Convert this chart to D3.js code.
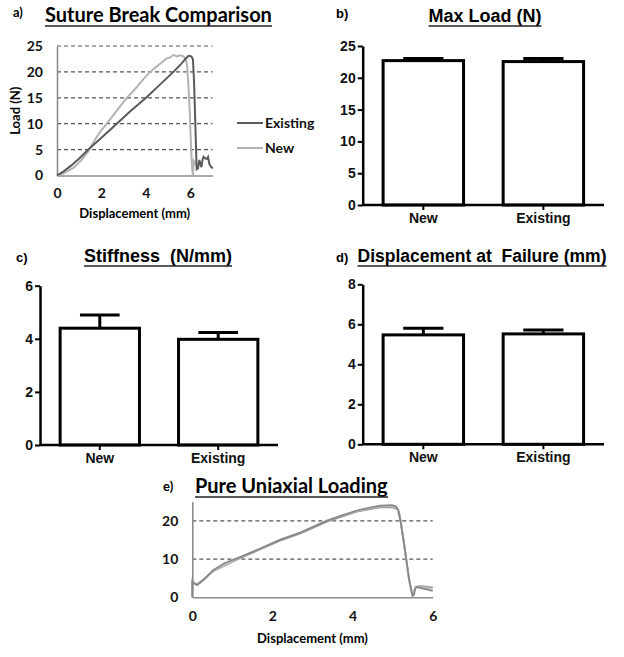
<!DOCTYPE html>
<html><head><meta charset="utf-8">
<script src="https://cdn.jsdelivr.net/npm/d3@7"></script>
<style>html,body{margin:0;padding:0;background:#fff;} text{white-space:pre;}</style>
</head><body>
<script>
// ---------- DATA ----------
const groups = ["New", "Existing"];
const maxLoadMean = [22.7, 22.55];
const maxLoadErr = [0.35, 0.5];
const stiffMean = [4.40, 3.98];
const stiffErr = [0.50, 0.26];
const dispMean = [5.47, 5.52];
const dispErr = [0.33, 0.20];

const ticksA_y = [0, 5, 10, 15, 20, 25];
const ticksA_x = [0, 2, 4, 6];
const ticksB_y = [0, 5, 10, 15, 20, 25];
const ticksC_y = [0, 2, 4, 6];
const ticksD_y = [0, 2, 4, 6, 8];
const ticksE_y = [0, 10, 20];
const ticksE_x = [0, 2, 4, 6];
const legendA = ["Existing", "New"];

// panel a curves [displacement mm, load N]
const existingCurve = [[0,0],[0.3,0.8],[0.66,2.0],[1.0,3.3],[1.41,5],[2.0,7.3],[2.69,10],[3.3,12.4],[4.01,15],[4.6,17.4],[5.24,20],[5.6,21.6],[5.8,22.6],[5.92,23.1],[6.05,23.0],[6.12,22.4],[6.17,18],[6.22,11],[6.26,5],[6.29,1.2],[6.35,1.4],[6.41,3.0],[6.46,2.2],[6.5,1.6],[6.56,3.2],[6.6,3.6],[6.67,3.3],[6.74,3.2],[6.8,3.6],[6.86,2.2],[6.95,1.6],[7.02,1.4]];
const newCurve = [[0,0],[0.3,0.4],[0.75,1.5],[1.1,3.0],[1.4,4.6],[1.64,6.4],[1.9,8.2],[2.24,10],[2.6,12],[2.9,13.7],[3.14,15],[3.5,16.6],[3.85,18.4],[4.19,20],[4.56,21.3],[4.94,22.6],[5.1,22.8],[5.24,23.3],[5.39,23.0],[5.55,23.2],[5.69,23.0],[5.8,22.4],[5.86,21],[5.92,17],[5.98,12],[6.03,6],[6.08,1.5],[6.12,0],[6.16,2.8],[6.21,2.4],[6.28,1.8]];

// panel e curves
const uniaxial1 = [[0,0],[0,4.3],[0.05,3.6],[0.12,3.2],[0.25,4.3],[0.52,7.1],[0.8,8.9],[1.19,10.5],[1.6,12.3],[2.19,15],[2.7,16.9],[3.36,20],[3.7,21.3],[4.11,22.7],[4.4,23.4],[4.69,24.0],[4.98,24.1],[5.08,23.8],[5.15,22.7],[5.21,19],[5.27,15],[5.34,10],[5.4,5.4],[5.46,2],[5.5,0.4],[5.53,0.6],[5.57,2.4],[5.62,2.7],[5.7,2.4],[5.85,2.1],[6.0,1.7]];
const uniaxial2 = [[0,0],[0,3.8],[0.12,3.5],[0.3,4.8],[0.52,6.8],[1.19,10.2],[2.19,14.8],[2.7,16.7],[3.36,19.8],[4.11,22.4],[4.69,23.5],[4.98,23.6],[5.12,23],[5.2,20],[5.3,13],[5.42,4],[5.5,0.8],[5.58,2.8],[5.7,2.9],[6.0,2.6]];
const uniaxial3 = [[0,0],[0,4.0],[0.12,3.4],[0.3,4.6],[0.52,7.0],[1.19,10.4],[2.19,15.1],[2.7,17.0],[3.36,20.1],[4.11,22.6],[4.69,23.8],[4.98,23.9],[5.1,23.4],[5.18,21.5],[5.28,14],[5.4,5],[5.49,0.6],[5.57,2.6],[5.7,2.6],[6.0,2.2]];

// ---------- DRAW ----------
const svg = d3.select("body").append("svg").attr("width", 624).attr("height", 657)
  .style("background", "#fff");

const xlFont = "Lato, 'Open Sans', sans-serif";
const gpFont = "'Liberation Sans', Arial, sans-serif";
const intFmt = d3.format("d");

function underlinedTitle(x, y, text, font, size, anchor) {
  const t = svg.append("text").attr("x", x).attr("y", y).attr("text-anchor", anchor || "middle")
    .attr("xml:space", "preserve").style("white-space", "pre")
    .attr("font-family", font).attr("font-size", size).attr("font-weight", "bold").attr("fill", "#000").text(text);
  const bb = t.node().getBBox();
  svg.append("line").attr("x1", bb.x).attr("x2", bb.x + bb.width).attr("y1", y + 4).attr("y2", y + 4)
    .attr("stroke", "#222").attr("stroke-width", 1.5);
}
function letter(x, y, text, font) {
  svg.append("text").attr("x", x).attr("y", y).attr("font-family", font || gpFont).attr("font-size", 13)
    .attr("font-weight", "bold").text(text);
}

// ---- Panel a ----
(function(){
  const x = d3.scaleLinear().domain([0, 7]).range([57, 212.5]);
  const y = d3.scaleLinear().domain([0, 25]).range([175.5, 46]);
  const g = svg.append("g");
  g.selectAll(".grid").data(ticksA_y.filter(d => d > 0)).enter().append("line")
    .attr("x1", x(0)).attr("x2", x(7)).attr("y1", d => y(d)).attr("y2", d => y(d))
    .attr("stroke", "#555").attr("stroke-width", 1.2).attr("stroke-dasharray", "4,3");
  const ya = g.append("g").attr("transform", `translate(${x(0)},0)`)
    .call(d3.axisLeft(y).tickValues(ticksA_y).tickFormat(intFmt).tickSize(0).tickPadding(14));
  const xa = g.append("g").attr("transform", `translate(0,${y(0)})`)
    .call(d3.axisBottom(x).tickValues(ticksA_x).tickFormat(intFmt).tickSize(0).tickPadding(13));
  [ya, xa].forEach(a => {
    a.select(".domain").attr("stroke", "#8c8c8c").attr("stroke-width", 1.6);
    a.selectAll("text").attr("font-family", xlFont).attr("font-size", 14).attr("font-weight", "bold").attr("fill", "#111");
  });
  const line = d3.line().x(d => x(d[0])).y(d => y(d[1]));
  g.append("path").datum(newCurve).attr("d", line).attr("fill", "none").attr("stroke", "#b3b3b3").attr("stroke-width", 2);
  g.append("path").datum(existingCurve).attr("d", line).attr("fill", "none").attr("stroke", "#5a5a5a").attr("stroke-width", 2);
  // legend
  const lc = ["#5a5a5a", "#b3b3b3"];
  legendA.forEach((name, i) => {
    const ly = 123 + i * 25;
    g.append("line").attr("x1", 237).attr("x2", 263).attr("y1", ly).attr("y2", ly).attr("stroke", lc[i]).attr("stroke-width", 2);
    g.append("text").attr("x", 265).attr("y", ly).attr("dy", "0.35em").attr("font-family", xlFont)
      .attr("font-size", 14).attr("font-weight", "bold").attr("fill", "#111").text(name);
  });
  g.append("text").attr("transform", `translate(15,${(y(0)+y(25))/2}) rotate(-90)`).attr("text-anchor", "middle")
    .attr("dy", "0.35em").attr("font-family", xlFont).attr("font-size", 13).attr("font-weight", "bold").text("Load (N)");
  g.append("text").attr("x", (x(0)+x(7))/2).attr("y", 213).attr("text-anchor", "middle").attr("dy", "0.35em")
    .attr("font-family", xlFont).attr("font-size", 13).attr("font-weight", "bold").text("Displacement (mm)");
  letter(13, 17, "a)", xlFont);
  underlinedTitle(45, 22, "Suture Break Comparison", xlFont, 20, "start");
})();

// ---- Bar panels ----
function barPanel(opt) {
  const x = d3.scaleBand().domain(groups).range([opt.x0, opt.x1]).paddingInner(0.33).paddingOuter(0.17);
  const y = d3.scaleLinear().domain([0, opt.max]).range([opt.yb, opt.yt]);
  const g = svg.append("g");
  g.selectAll(".bar").data(groups).enter().append("rect")
    .attr("x", d => x(d)).attr("width", x.bandwidth())
    .attr("y", (d, i) => y(opt.mean[i])).attr("height", (d, i) => y(0) - y(opt.mean[i]))
    .attr("fill", "#fff").attr("stroke", "#000").attr("stroke-width", 3);
  g.selectAll(".ev").data(groups).enter().append("line")
    .attr("x1", d => x(d) + x.bandwidth()/2).attr("x2", d => x(d) + x.bandwidth()/2)
    .attr("y1", (d, i) => y(opt.mean[i])).attr("y2", (d, i) => y(opt.mean[i] + opt.err[i]))
    .attr("stroke", "#000").attr("stroke-width", 3);
  g.selectAll(".cap").data(groups).enter().append("line")
    .attr("x1", d => x(d) + x.bandwidth()/4).attr("x2", d => x(d) + 3*x.bandwidth()/4)
    .attr("y1", (d, i) => y(opt.mean[i] + opt.err[i])).attr("y2", (d, i) => y(opt.mean[i] + opt.err[i]))
    .attr("stroke", "#000").attr("stroke-width", 3);
  const ya = g.append("g").attr("transform", `translate(${opt.x0},0)`)
    .call(d3.axisLeft(y).tickValues(opt.ticks).tickFormat(intFmt).tickSize(5).tickSizeOuter(0).tickPadding(2));
  const xa = g.append("g").attr("transform", `translate(0,${y(0)})`)
    .call(d3.axisBottom(x).tickSize(5).tickSizeOuter(0).tickPadding(3));
  [ya, xa].forEach(a => {
    a.select(".domain").attr("stroke", "#000").attr("stroke-width", 2.5);
    a.selectAll(".tick line").attr("stroke", "#000").attr("stroke-width", 2);
    a.selectAll("text").attr("font-family", gpFont).attr("font-size", 14).attr("font-weight", "bold").attr("fill", "#111");
  });
  xa.select(".domain").attr("d", `M${opt.x0},0H${opt.x1}`);
  letter(opt.lx, opt.ly, opt.letter);
  underlinedTitle(opt.tx, opt.ty, opt.title, gpFont, opt.ts || 18, "middle");
}
barPanel({x0: 362.7, x1: 604, yt: 46, yb: 205, max: 25, ticks: ticksB_y, mean: maxLoadMean, err: maxLoadErr,
  letter: "b)", lx: 336, ly: 18, title: "Max Load (N)", tx: 485, ty: 22});
barPanel({x0: 40, x1: 278, yt: 285.7, yb: 445, max: 6, ticks: ticksC_y, mean: stiffMean, err: stiffErr,
  letter: "c)", lx: 16, ly: 262, title: "Stiffness  (N/mm)", tx: 158, ty: 262});
barPanel({x0: 362.7, x1: 604, yt: 284.3, yb: 444.3, max: 8, ticks: ticksD_y, mean: dispMean, err: dispErr,
  letter: "d)", lx: 336, ly: 262, title: "Displacement at  Failure (mm)", tx: 482, ty: 262, ts: 17.5});

// ---- Panel e ----
(function(){
  const x = d3.scaleLinear().domain([0, 6]).range([192.3, 432.7]);
  const y = d3.scaleLinear().domain([0, 25]).range([597.3, 501.7]);
  const g = svg.append("g");
  g.selectAll(".grid").data(ticksE_y.filter(d => d > 0)).enter().append("line")
    .attr("x1", x(0)).attr("x2", x(6)).attr("y1", d => y(d)).attr("y2", d => y(d))
    .attr("stroke", "#555").attr("stroke-width", 1.2).attr("stroke-dasharray", "4,3");
  const ya = g.append("g").attr("transform", `translate(${x(0)},0)`)
    .call(d3.axisLeft(y).tickValues(ticksE_y).tickFormat(intFmt).tickSize(0).tickPadding(14));
  const xa = g.append("g").attr("transform", `translate(0,${y(0)})`)
    .call(d3.axisBottom(x).tickValues(ticksE_x).tickFormat(intFmt).tickSize(0).tickPadding(14));
  [ya, xa].forEach(a => {
    a.select(".domain").attr("stroke", "#8c8c8c").attr("stroke-width", 1.6);
    a.selectAll("text").attr("font-family", xlFont).attr("font-size", 14).attr("font-weight", "bold").attr("fill", "#111");
  });
  const line = d3.line().x(d => x(d[0])).y(d => y(d[1]));
  const cols = ["#9a9a9a", "#c4c4c4", "#888888"];
  [uniaxial2, uniaxial3, uniaxial1].forEach((c, i) => {
    g.append("path").datum(c).attr("d", line).attr("fill", "none").attr("stroke", cols[i]).attr("stroke-width", 1.8);
  });
  svg.append("clipPath").attr("id", "clipE").append("rect").attr("x", 149).attr("y", 480).attr("width", 100).attr("height", 177);
  g.append("text").attr("clip-path", "url(#clipE)").attr("transform", `translate(151,548) rotate(-90)`).attr("text-anchor", "middle")
    .attr("dy", "0.35em").attr("font-family", xlFont).attr("font-size", 13).attr("font-weight", "bold").text("Load (N)");
  g.append("text").attr("x", (x(0)+x(6))/2).attr("y", 638).attr("text-anchor", "middle").attr("dy", "0.35em")
    .attr("font-family", xlFont).attr("font-size", 13).attr("font-weight", "bold").text("Displacement (mm)");
  letter(163, 491, "e)", xlFont);
  underlinedTitle(195, 493, "Pure Uniaxial Loading", xlFont, 20, "start");
})();
</script>
</body></html>
